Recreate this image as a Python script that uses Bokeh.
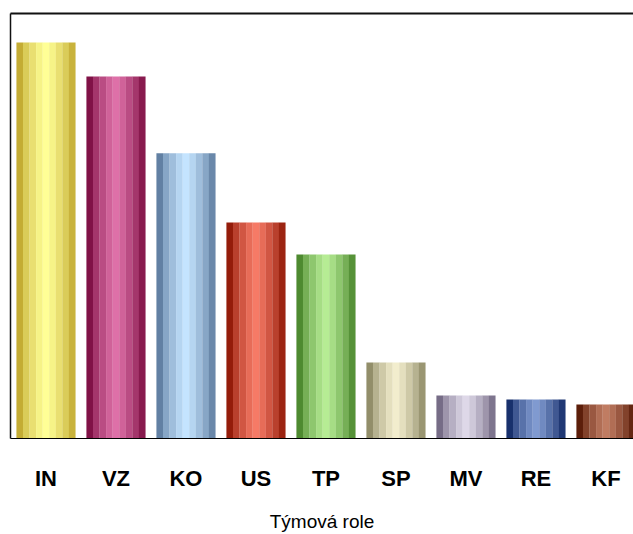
import numpy as np
from bokeh.plotting import figure
from bokeh.models import ColumnDataSource, Range1d, FixedTicker, LinearAxis
from bokeh.transform import dodge
from bokeh.embed import file_html
from bokeh.resources import INLINE

# ---- data ----
roles = ["IN", "VZ", "KO", "US", "TP", "SP", "MV", "RE", "KF"]
values = [93.2, 85.2, 67.1, 50.8, 43.3, 17.9, 10.1, 9.2, 8.0]
axis_title = "Týmová role"

# ---- styles (cylinder shading: dark edge -> light centre) ----
edge_colors = [(196, 172, 52), (128, 18, 70), (98, 128, 163), (148, 28, 10), (78, 138, 48),
               (146, 142, 106), (118, 108, 134), (24, 48, 108), (92, 30, 10)]
light_colors = [(255, 255, 150), (222, 112, 168), (196, 228, 255), (246, 122, 102), (182, 236, 148),
                (242, 237, 205), (222, 216, 232), (128, 154, 208), (192, 124, 98)]

n_stripes = 9
bar_w = 0.843
stripe_w = bar_w / n_stripes
profile = [0.0, 0.38, 0.62, 0.85, 1.0, 0.85, 0.62, 0.38, 0.08]


def blend(a, b, t):
    return "#%02x%02x%02x" % tuple(int(round(a[i] + (b[i] - a[i]) * t)) for i in range(3))


xs = list(range(len(roles)))
data = dict(x=xs, top=values)
for k, t in enumerate(profile):
    data[f"c{k}"] = [blend(edge_colors[i], light_colors[i], t) for i in range(len(roles))]
src = ColumnDataSource(data)

p = figure(width=633, height=534, output_backend="svg", toolbar_location=None,
           x_range=Range1d(-0.507, 8.279 + 8 / 70), y_range=Range1d(0, 100),
           min_border_left=10, min_border_right=0, min_border_top=13, min_border_bottom=94)
p.outline_line_color = None
p.background_fill_color = "white"
p.border_fill_color = "white"
p.grid.visible = False
p.yaxis.visible = False
p.xaxis.visible = False

for k in range(n_stripes):
    off = -bar_w / 2 + stripe_w * (k + 0.5)
    p.vbar(x=dodge("x", off, range=p.x_range), top="top", bottom=0, width=stripe_w * 1.02,
           source=src, fill_color=f"c{k}", line_color=None)

# bottom axis with categories
xa = LinearAxis(ticker=FixedTicker(ticks=xs),
                major_label_overrides={i: r for i, r in enumerate(roles)})
xa.axis_line_color = "black"
xa.axis_line_width = 1
xa.major_tick_line_color = None
xa.minor_tick_line_color = None
xa.major_tick_out = 0
xa.major_tick_in = 0
xa.major_label_standoff = 27
xa.major_label_text_font = "Liberation Sans"
xa.major_label_text_font_style = "bold"
xa.major_label_text_font_size = "22px"
xa.major_label_text_color = "black"
xa.axis_label = axis_title
xa.axis_label_text_font = "Liberation Sans"
xa.axis_label_text_font_style = "normal"
xa.axis_label_text_font_size = "19px"
xa.axis_label_text_color = "black"
xa.axis_label_standoff = 17
p.add_layout(xa, "below")

# left frame line
ya = LinearAxis(ticker=FixedTicker(ticks=[]))
ya.axis_line_color = "#111111"
ya.axis_line_width = 1.5
ya.major_tick_line_color = None
ya.minor_tick_line_color = None
ya.major_label_text_font_size = "0px"
ya.major_label_standoff = 0
ya.major_tick_out = 0
ya.minor_tick_out = 0
p.add_layout(ya, "left")

# top frame line
ta = LinearAxis(ticker=FixedTicker(ticks=[]))
ta.axis_line_color = "#111111"
ta.axis_line_width = 2
ta.major_tick_line_color = None
ta.minor_tick_line_color = None
ta.major_label_text_font_size = "0px"
ta.major_label_standoff = 0
ta.major_tick_out = 0
ta.minor_tick_out = 0
p.add_layout(ta, "above")

open("out.html", "w").write(file_html(p, INLINE))
